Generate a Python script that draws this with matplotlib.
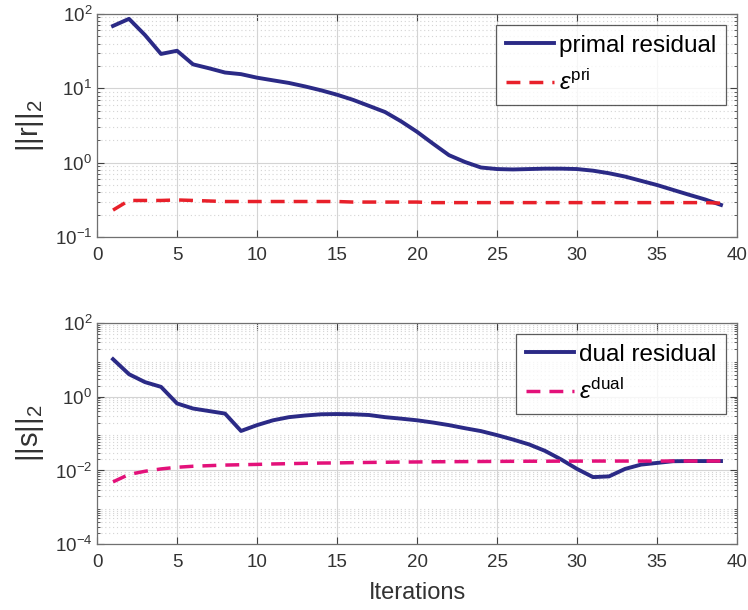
import numpy as np
import matplotlib
matplotlib.use("Agg")
import matplotlib.pyplot as plt
from matplotlib.ticker import LogLocator, MultipleLocator, NullFormatter

plt.rcParams['font.family'] = ['Liberation Sans', 'DejaVu Sans']
plt.rcParams['mathtext.fontset'] = 'custom'
plt.rcParams['mathtext.rm'] = 'Liberation Sans'
plt.rcParams['mathtext.it'] = 'Liberation Sans:italic'
plt.rcParams['mathtext.sf'] = 'Liberation Sans'

iterations = list(range(1, 40))

primal_residual = [69, 86, 52, 29, 32, 21, 18.6, 16.3, 15.5, 13.9,
                   12.8, 11.8, 10.6, 9.4, 8.2, 7.0, 5.8, 4.8, 3.6, 2.6,
                   1.8, 1.26, 1.02, 0.86, 0.82, 0.81, 0.82, 0.83, 0.83, 0.82,
                   0.78, 0.72, 0.65, 0.57, 0.50, 0.43, 0.37, 0.32, 0.27]
eps_pri = [0.23, 0.31, 0.31, 0.31, 0.315, 0.31, 0.305, 0.30, 0.30, 0.30,
           0.30, 0.30, 0.30, 0.30, 0.30, 0.295, 0.295, 0.295, 0.295, 0.295,
           0.29, 0.29, 0.29, 0.29, 0.29, 0.29, 0.29, 0.29, 0.29, 0.29,
           0.29, 0.29, 0.29, 0.29, 0.29, 0.29, 0.29, 0.29, 0.285]

dual_residual = [10.5, 4.1, 2.5, 1.86, 0.66, 0.48, 0.41, 0.35, 0.118, 0.17,
                 0.23, 0.28, 0.31, 0.335, 0.34, 0.335, 0.32, 0.28, 0.255, 0.23,
                 0.2, 0.17, 0.14, 0.117, 0.091, 0.069, 0.051, 0.034, 0.02, 0.011,
                 0.0066, 0.0069, 0.011, 0.0144, 0.016, 0.0178, 0.018, 0.018, 0.018]
eps_dual = [0.0049, 0.0078, 0.0095, 0.011, 0.0122, 0.013, 0.0135, 0.014, 0.0143, 0.0146,
            0.015, 0.0153, 0.0156, 0.0159, 0.016, 0.0163, 0.0165, 0.0167, 0.0169, 0.017,
            0.0172, 0.0173, 0.0174, 0.0175, 0.0176, 0.0177, 0.0178, 0.0178, 0.0179, 0.0179,
            0.018, 0.018, 0.018, 0.018, 0.018, 0.018, 0.018, 0.018, 0.018]

navy = '#2b2a86'
red = '#e8202a'
magenta = '#e3117a'

fig = plt.figure(figsize=(7.48, 6.10), dpi=100)
ax1 = fig.add_axes([0.1297, 0.6115, 0.8556, 0.3656])
ax2 = fig.add_axes([0.1297, 0.108, 0.8556, 0.3623])

def style(ax, ylim, ylabel, major_ticks):
    ax.set_yscale('log')
    ax.set_xlim(0, 40)
    ax.set_ylim(*ylim)
    ax.xaxis.set_major_locator(MultipleLocator(5))
    ax.set_yticks(major_ticks)
    ax.yaxis.set_minor_locator(LogLocator(base=10, subs=np.arange(2, 10), numticks=20))
    ax.yaxis.set_minor_formatter(NullFormatter())
    ax.grid(True, which='major', color='#d4d4d4', lw=0.8, ls='-')
    ax.grid(True, which='minor', axis='y', color='#d4d4d4', lw=0.8, ls=(0, (1, 2.5)))
    ax.set_axisbelow(True)
    ax.tick_params(which='both', direction='in', top=True, right=True,
                   colors='#404040', labelcolor='#333333', labelsize=13.5)
    ax.tick_params(which='major', length=5)
    ax.tick_params(which='minor', length=2.5)
    ax.tick_params(axis='x', pad=7)
    for s in ax.spines.values():
        s.set_color('#707070')
        s.set_linewidth(0.9)
    ax.set_ylabel(ylabel, fontsize=21, color='#333333', labelpad=6)

def legend(ax):
    leg = ax.legend(loc='upper right', fontsize=17.5, frameon=True, fancybox=False,
                    edgecolor='#333333', handlelength=2.0, handletextpad=0.2,
                    borderaxespad=0.45, labelspacing=0.55, borderpad=0.4)
    leg.get_frame().set_linewidth(0.9)
    return leg

ax1.plot(iterations, primal_residual, color=navy, lw=2.8, label='primal residual')
ax1.plot(iterations, eps_pri, color=red, lw=2.5, ls=(0, (4, 2.6)), label=r'$\epsilon^{\mathrm{pri}}$')
style(ax1, (0.1, 100), r'$\mathrm{||r||}_2$', [0.1, 1, 10, 100])
legend(ax1)

ax2.plot(iterations, dual_residual, color=navy, lw=2.8, label='dual residual')
ax2.plot(iterations, eps_dual, color=magenta, lw=2.5, ls=(0, (4, 2.6)), label=r'$\epsilon^{\mathrm{dual}}$')
style(ax2, (1e-4, 100), r'$\mathrm{||s||}_2$', [1e-4, 1e-2, 1, 100])
legend(ax2)
ax2.set_xlabel('Iterations', fontsize=17, color='#333333', labelpad=8)

fig.savefig('out.png', dpi=100)
